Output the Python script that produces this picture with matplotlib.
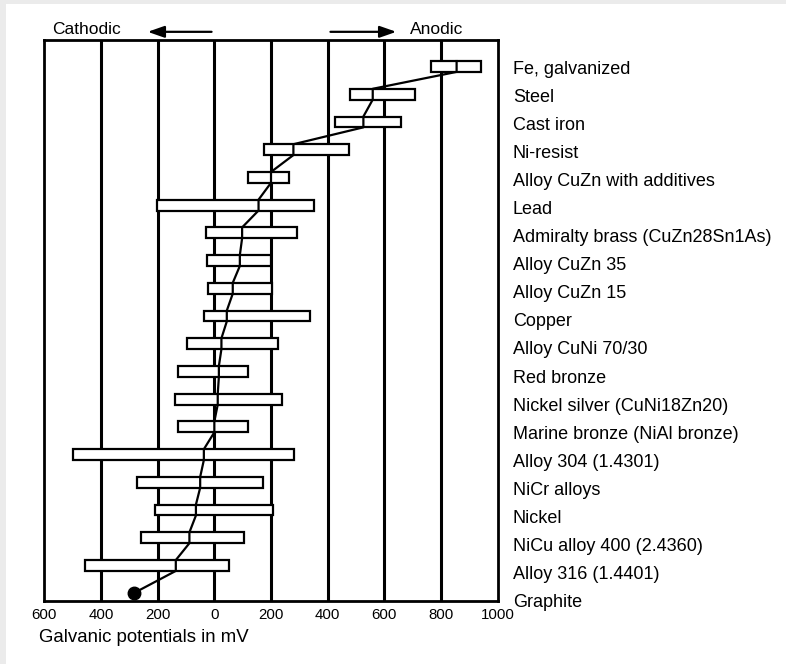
import matplotlib
matplotlib.use("Agg")
import matplotlib.pyplot as plt
from matplotlib.patches import Rectangle

plt.rcParams['font.family'] = ['Liberation Sans', 'DejaVu Sans']

# Materiales (de arriba hacia abajo) y rangos de potencial en mV
materiales = ["Fe, galvanized", "Steel", "Cast iron", "Ni-resist",
              "Alloy CuZn with additives", "Lead", "Admiralty brass (CuZn28Sn1As)",
              "Alloy CuZn 35", "Alloy CuZn 15", "Copper", "Alloy CuNi 70/30",
              "Red bronze", "Nickel silver (CuNi18Zn20)", "Marine bronze (NiAl bronze)",
              "Alloy 304 (1.4301)", "NiCr alloys", "Nickel", "NiCu alloy 400 (2.4360)",
              "Alloy 316 (1.4401)", "Graphite"]
minimo = [765, 480, 425, 175, 118, -203, -30, -25, -22, -35, -98, -129,
          -140, -129, -500, -272, -210, -259, -456, None]
maximo = [942, 707, 657, 475, 262, 352, 292, 200, 204, 336, 226, 120,
          238, 120, 280, 172, 208, 105, 53, None]
tipico = [855, 559, 526, 279, 200, 156, 98, 90, 65, 44, 25, 16,
          12, 0, -37, -50, -65, -88, -136, -285]

ticks_x = [-600, -400, -200, 0, 200, 400, 600, 800, 1000]
etiquetas_x = ["600", "400", "200", "0", "200", "400", "600", "800", "1000"]

fig = plt.figure(figsize=(7.86, 6.64), dpi=100, facecolor="#ebebeb")
# panel blanco con borde gris arriba/izquierda
fig.patches.append(Rectangle((6 / 786, 0), 1, 1 - 4 / 664, transform=fig.transFigure,
                             facecolor="white", edgecolor="none", zorder=-10))

ax = fig.add_axes([0.0564, 0.0949, 0.5768, 0.8449])
ax.set_facecolor("white")
ax.set_xlim(-600, 1000)
ax.set_ylim(19.28, -0.956)

# lineas verticales
for x in ticks_x[1:-1]:
    ax.axvline(x, color="black", lw=2.2, zorder=1)

alto = 0.39
filas = list(range(len(materiales)))
for i in filas:
    if minimo[i] is None:
        continue
    ax.add_patch(Rectangle((minimo[i], i - alto / 2), maximo[i] - minimo[i], alto,
                           facecolor="white", edgecolor="black", lw=1.6, zorder=2))

# linea de potenciales tipicos (entra y sale de cada barra)
xs, ys = [], []
for i in filas:
    if minimo[i] is None:
        xs.append(tipico[i]); ys.append(i)
    else:
        xs += [tipico[i], tipico[i]]
        ys += [i - alto / 2, i + alto / 2]
ax.plot(xs, ys, color="black", lw=1.6, zorder=3)
ax.plot(tipico[-1], filas[-1], "o", color="black", ms=9, zorder=4)

for s in ax.spines.values():
    s.set_linewidth(2)

ax.set_xticks(ticks_x)
ax.set_xticklabels(etiquetas_x, fontsize=10.8)
ax.tick_params(axis="x", length=0, pad=5)
ax.yaxis.tick_right()
# las etiquetas van un poco mas separadas que las barras
ax.set_yticks([i * 1.0134 + 0.02 for i in filas])
ax.set_yticklabels(materiales, fontsize=13)
ax.tick_params(axis="y", length=0, pad=11)

ax.set_xlabel("Galvanic potentials in mV", fontsize=13.4, labelpad=4)
ax.xaxis.set_label_coords(-0.012, -0.05)
ax.xaxis.label.set_horizontalalignment("left")

# flechas catodico / anodico
ax.text(-573, -1.35, "Cathodic", fontsize=12.5, ha="left", va="center", clip_on=False)
ax.annotate("", xy=(-245, -1.25), xytext=(0, -1.25), annotation_clip=False,
            arrowprops=dict(arrowstyle="-|>,head_length=1.0,head_width=0.35",
                            color="black", lw=1.6))
ax.annotate("", xy=(652, -1.25), xytext=(400, -1.25), annotation_clip=False,
            arrowprops=dict(arrowstyle="-|>,head_length=1.0,head_width=0.35",
                            color="black", lw=1.6))
ax.text(690, -1.35, "Anodic", fontsize=12.5, ha="left", va="center", clip_on=False)

fig.savefig("out.png", dpi=100, facecolor=fig.get_facecolor())
